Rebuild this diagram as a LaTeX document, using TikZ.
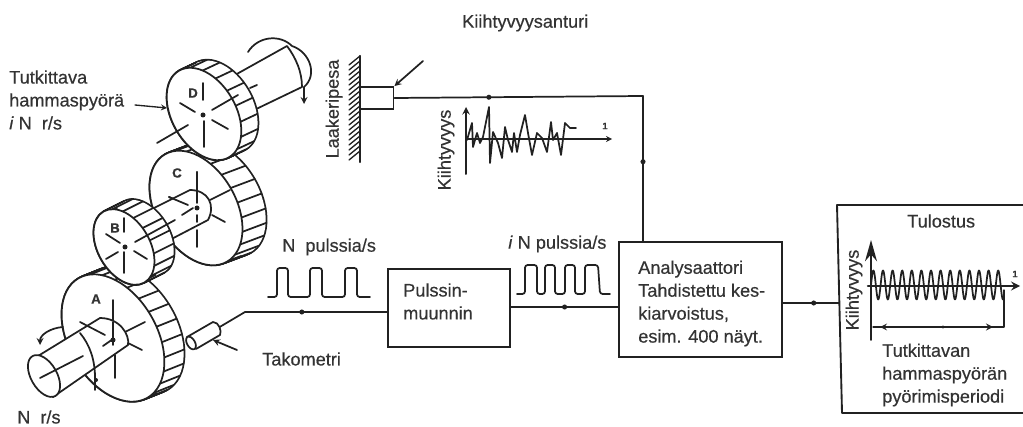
\documentclass[tikz,border=0pt]{standalone}
\usepackage{fontspec}
\usetikzlibrary{arrows.meta}
\setmainfont[RawFeature={embolden=0.5}]{Liberation Sans}
\definecolor{ink}{gray}{0.13}
\definecolor{txt}{gray}{0.2}
\tikzset{
  x=0.75pt,y=-0.75pt,
  ln/.style={draw=ink,line width=1.3pt,line join=round,line cap=round},
  thin ln/.style={draw=ink,line width=1pt,line join=round,line cap=round},
  lbl/.style={anchor=west,inner sep=0pt,text=txt,font=\fontsize{13.6}{17.2}\selectfont,align=left},
  vlbl/.style={rotate=90,anchor=center,inner sep=0pt,text=txt,font=\fontsize{13.6}{17.2}\selectfont},
  letter/.style={inner sep=0pt,text=txt,font=\fontsize{10}{11}\selectfont\bfseries},
  tick/.style={inner sep=0pt,text=txt,font=\fontsize{7}{8}\selectfont\bfseries},
  boxn/.style={draw=ink,line width=1.4pt,inner sep=0pt},
  blip/.style={circle,fill=ink,inner sep=0pt,minimum size=3.8pt},
}
\newcommand\gearg[7]{%
  \foreach \s in {0,0.05,...,1.001}{\fill[ink,shift={(#1+\s*#5,#2+\s*#6)},rotate=-60] (0,0) ellipse [x radius=#3+1,y radius=#4+1];}%
  \foreach \s in {0,0.05,...,1.001}{\fill[white,shift={(#1+\s*#5,#2+\s*#6)},rotate=-60] (0,0) ellipse [x radius=#3-0.8,y radius=#4-0.8];}%
  \foreach \t in {0,#7,...,359}{%
    \pgfmathsetmacro\px{#1+#3*cos(\t)*cos(60)-#4*sin(\t)*sin(60)}%
    \pgfmathsetmacro\py{#2+#3*cos(\t)*sin(60)+#4*sin(\t)*cos(60)}%
    \draw[ln] (\px,\py) -- (\px+#5,\py+#6);}%
  \filldraw[ln,fill=white,shift={(#1,#2)},rotate=-60] (0,0) ellipse [x radius=#3,y radius=#4];%
}
\begin{document}
\begin{tikzpicture}
\useasboundingbox (0,0) rectangle (1023,427);
% --- gear A
\gearg{113}{338}{69}{44}{20}{-8}{14}
\draw[ln] (113,300)--(113,335) (115,355)--(115,378) (122,340)--(142,350) (115,337)--(145,322);
\draw[ln,fill=white] (38,356)--(100,318) .. controls (120,318) and (130,335) .. (128,345) -- (53,397) -- cycle;
\draw[ln,fill=white,shift={(44,376)},rotate=-60] (0,0) ellipse [x radius=23,y radius=13];
\draw[ln] (80,333) .. controls (90,345) and (95,360) .. (95,378);
\draw[ln] (40,378)--(83,356) (103,346)--(113,339) (113,322)--(113,345) (80,322)--(105,335) (95,373)--(95,390);
\fill[ink] (113,340) circle (2.5) (96,380) circle (2);
\draw[ln,<-,>=stealth] (40,345) .. controls (40,335) and (50,328) .. (63,327);
\node[letter] (la) at (96,299) {A};
% --- gear C
\gearg{196}{208}{62}{40}{24}{-9}{15}
\draw[ln] (197,172)--(197,203) (197,230)--(197,247) (169,197)--(188,205) (212,215)--(225,222) (210,200)--(230,190);
\fill[white] (150,210)--(190,190) .. controls (208,190) and (216,205) .. (208,220) -- (160,245) -- cycle;
\draw[ln] (150,210)--(190,190) .. controls (208,190) and (216,205) .. (208,220) -- (160,245);
\draw[ln] (197,172)--(197,203) (197,215)--(197,222) (169,197)--(188,205) (182,215)--(193,208);
\fill[ink] (197,208) circle (2.5);
\node[letter] (lc) at (177,173) {C};
% --- gear B
\gearg{124}{247}{41}{26}{20}{-10}{20}
\draw[ln] (124,218)--(124,232) (124,252)--(124,273) (106,234)--(120,243) (134,251)--(147,259) (106,259)--(118,252) (135,242)--(175,220);
\fill[ink] (125,247) circle (2.5);
\node[letter] (lb) at (115,228) {B};
% --- gear D
\draw[ln,fill=white] (235,75)--(287,46) .. controls (296,58) and (302,72) .. (302,87) -- (250,112) -- cycle;
\gearg{204}{114}{50}{32}{17}{-8}{20}
\draw[ln] (203,83)--(203,100) (204,121)--(204,147) (212,120)--(228,129) (180,103)--(195,112) (157,143)--(188,125) (212,110)--(238,95) (250,88)--(257,85);
\fill[ink] (203,115) circle (2.5);
\node[letter] (ld) at (193,93) {D};
\draw[ln,->,>=stealth] (248,52) .. controls (258,36) and (280,34) .. (292,46) .. controls (310,52) and (318,75) .. (304,87) -- (304,104);
% --- left labels
\node[lbl] (tg) at (9,100) {Tutkittava\\hammaspyörä\\\textit{i} N\ \ r/s};
\coordinate (tgarrow) at (135,105);
\coordinate (dface) at (167,108);
\draw[thin ln,->,>=stealth] (tgarrow)--(dface);
\node[lbl] (nrs) at (17,417) {N\ \ r/s};
% --- bearing
\draw[ln,line width=1.6pt] (360,56)--(360,162);
\foreach \y in {56,61,...,152}{\draw[thin ln] (360,\y)--(349,\y+9);}
\node[vlbl] (lp) at (334,109) {Laakeripesa};
\node[boxn,draw=ink,minimum width=25.5pt,minimum height=16.5pt] (sensor) at (376.5,98) {};
\coordinate (sa) at (423,61);
\draw[ln,->,>=stealth] (sa)--(sensor.north east);
\node[lbl] (ka) at (462,23) {Kiihtyvyysanturi};
% --- accel plot
\node[vlbl] (k1) at (446,150) {Kiihtyvyys};
\coordinate (a0) at (466,174); \coordinate (a1) at (466,107);
\coordinate (b0) at (466,139); \coordinate (b1) at (612,139);
\draw[ln,line width=1.5pt,->,>=stealth] (a0)--(a1);
\draw[thin ln,->,>=stealth] (b0)--(b1);
\node[tick] (t1) at (605,126) {1};
\draw[ln] (467,140)--(472,123)--(473,147)--(477,133)--(480,143)--(483,137)--(489,107)--(490,163)--(493,132)--(498,143)--(502,158)--(505,127)--(508,140)--(512,152)--(514,133)--(517,152)--(520,135)--(525,115)--(528,133)--(532,155)--(537,133)--(542,138)--(547,152)--(551,122)--(553,140)--(557,133)--(561,155)--(565,123)--(570,128)--(576,128);
% --- blocks
\node[boxn,minimum width=91.5pt,minimum height=58.5pt] (pm) at (449,308) {};
\node[lbl] (pmt) at (403,301.5) {Pulssin-\\muunnin};
\node[boxn,minimum width=122pt,minimum height=86pt] (an) at (700.5,299.5) {};
\node[lbl] (ant) at (638,303.5) {Analysaattori\\Tahdistettu kes-\\kiarvoistus,\\esim. 400 näyt.};
% --- connectors
\coordinate (tk) at (218,328);
\coordinate (tkb) at (245,312);
\draw[ln] (tk)--(tkb)--(pm.west|-tkb) node[blip,pos=.4] {};
\coordinate (y307) at (0,307);
\coordinate (pm1) at (pm.east|-y307);
\coordinate (an1) at (an.west|-y307);
\draw[ln] (pm1)--(an1) node[blip,midway] {};
\coordinate (sl) at (sensor.east);
\coordinate (scx) at (643,96);
\coordinate (scy) at (643,242);
\draw[ln] (sl)--(scx) node[blip,pos=.38] {} -- (scy) node[blip,pos=.45] {};
% --- tacho
\draw[ln,fill=white] (187,337)--(213,322) .. controls (219,322) and (222,331) .. (220,335) -- (196,349) -- cycle;
\draw[ln,fill=white,shift={(191,343)},rotate=-60] (0,0) ellipse [x radius=7,y radius=4];
\coordinate (ta) at (237,350);
\coordinate (tb) at (213,340);
\draw[ln,->,>=stealth] (ta)--(tb);
\node[lbl] (tak) at (262,359) {Takometri};
% --- pulses
\node[lbl] (np) at (282,247) {N\ \ pulssia/s};
\node[lbl] (inp) at (508,244) {\textit{i} N pulssia/s};
\draw[ln,rounded corners=2pt] (268,297)--(277,297)--(277,268)--(288,268)--(288,297)--(310,297)--(310,268)--(322,268)--(322,297)--(345,297)--(345,268)--(357,268)--(357,297)--(370,297);
\draw[ln,rounded corners=2pt] (517,294)--(525,294)--(525,265)--(537,265)--(537,294)--(545,294)--(545,265)--(555,265)--(555,294)--(565,294)--(565,265)--(575,265)--(575,294)--(585,294)--(585,265)--(598,265)--(600,294)--(610,294);
% --- output box
\coordinate (o1) at (837,205);\coordinate (o2) at (1023,205);\coordinate (o3) at (842,413);\coordinate (o4) at (1023,413);
\draw[ln,line width=1.4pt] (o2)--(o1)--(o3)--(o4);
\coordinate (y303) at (0,303);
\coordinate (an2) at (an.east|-y303);
\coordinate (o5) at (839,303);
\draw[ln] (an2)--(o5) node[blip,pos=.55] {};
\node[lbl] (tu) at (907,221) {Tulostus};
\node[vlbl] (k2) at (854,290) {Kiihtyvyys};
\coordinate (c0) at (871,340);\coordinate (c1) at (871,240);
\draw[ln,-{Stealth[length=16pt,width=9pt]}] (c0)--(c1);
\coordinate (d0) at (868,286);\coordinate (d1) at (1020,286);
\draw[ln,line width=1.9pt,->,>=stealth] (d0)--(d1);
\node[tick] (t2) at (1015,274) {1};
\draw[ln] plot[domain=871:1004,samples=320] (\x,{285-14.5*sin((\x-871)*37.5)});
\coordinate (e0) at (1004,290);\coordinate (e1) at (1004,327);\coordinate (e2) at (873,327);
\draw[thin ln] (e0)--(e1)--(e2);
\draw[ln,->,>=stealth] (895,327)--(880,327);
\draw[ln,->,>=stealth] (975,327)--(993,327);
\node[blip,minimum size=2.5pt] (em) at (943,327) {};
\node[lbl] (tp) at (882,375) {Tutkittavan\\hammaspyörän\\pyörimisperiodi};
\end{tikzpicture}
\end{document}
